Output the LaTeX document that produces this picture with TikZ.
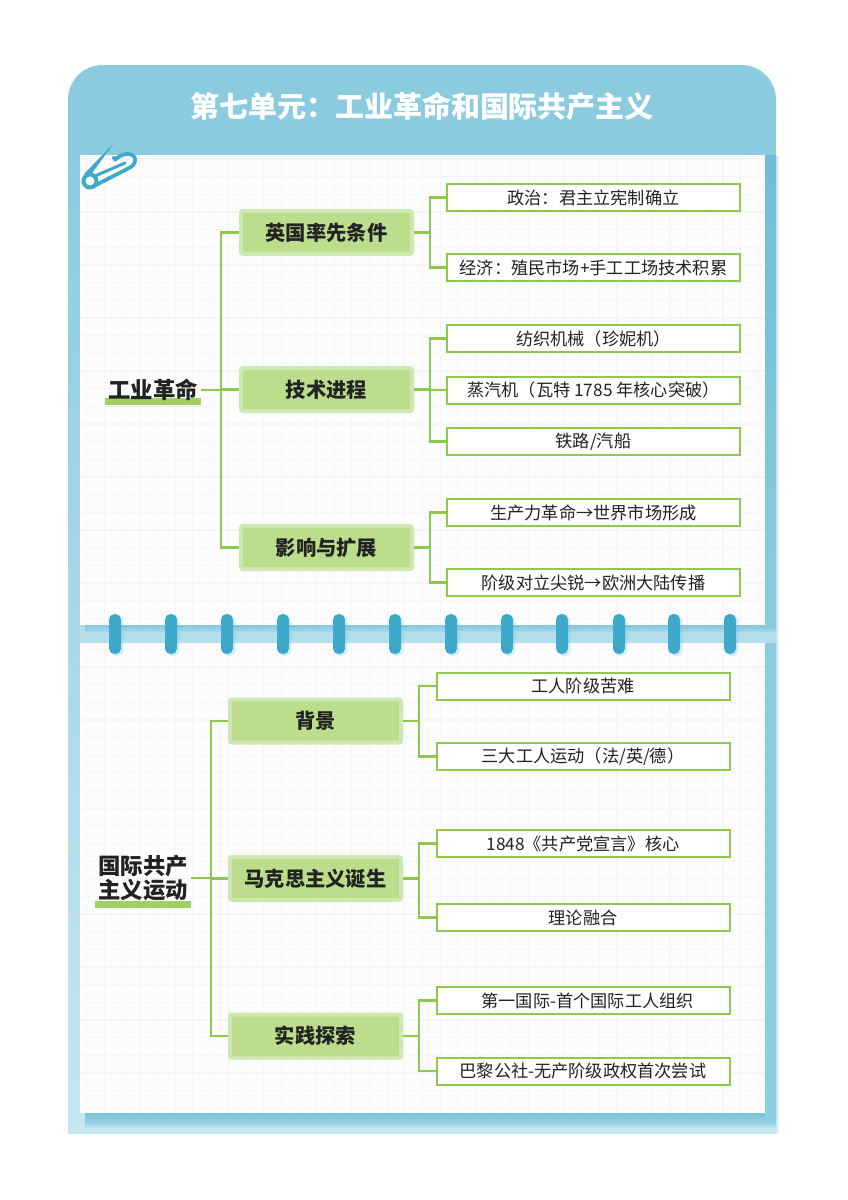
\documentclass[tikz,border=0pt]{standalone}
\usepackage{fontspec}
\setmainfont{Noto Sans CJK SC}
\usetikzlibrary{calc}
\definecolor{band}{HTML}{8BCBE0}
\definecolor{bandlow}{HTML}{C6E6F0}
\definecolor{shadowc}{HTML}{76C2DC}
\definecolor{rightdark}{HTML}{70BCD9}
\definecolor{rightlow}{HTML}{8BCDE2}
\definecolor{pinblue}{HTML}{3FA9CC}
\definecolor{paper}{HTML}{FCFCFC}
\definecolor{gridc}{HTML}{F5F5F5}
\definecolor{conc}{HTML}{8EC84C}
\definecolor{lvfill}{HTML}{BBDD8C}
\definecolor{lvedge}{HTML}{CDE8B0}
\definecolor{barc}{HTML}{A2D063}
\definecolor{ink}{HTML}{222222}
\tikzset{
  x=0.75pt,y=-0.75pt,
  conn/.style={draw=conc,line width=1.6pt,line join=miter},
  leafbox/.style={draw=conc,line width=1.5pt,fill=white,minimum width=219.75pt,minimum height=20.25pt,inner sep=0pt,outer sep=0.75pt,font=\fontsize{12.9pt}{15pt}\selectfont,text=ink},
  lvbox/.style={draw=lvedge,line width=3pt,fill=lvfill,rounded corners=1.5pt,minimum width=128.25pt,minimum height=32.25pt,inner sep=0pt,outer sep=1.5pt,font=\fontsize{15.2pt}{18pt}\selectfont\bfseries,text=ink},
  rootbox/.style={minimum width=72pt,inner sep=0pt,outer sep=0pt,align=center,font=\fontsize{16.8pt}{18pt}\selectfont\bfseries,text=ink},
  rootbar/.style={fill=barc,minimum width=72pt,minimum height=5.25pt,inner sep=0pt,outer sep=0pt},
  titletext/.style={font=\fontsize{21.75pt}{26pt}\selectfont\bfseries,text=white,inner sep=0pt},
  pill/.style={fill=pinblue,rounded corners=4.1pt},
}
\newcommand{\panelshadow}[5]{%
  \foreach \i in {0,1,...,#5}{
    \fill[shadowc,opacity=0.13] (#1+5,#2+5) rectangle (#3,#4+\i);
  }
}
\begin{document}
\begin{tikzpicture}
\useasboundingbox[fill=white] (0,0) rectangle (848,1200);
% soft glow right of the band
\shade[left color=band!45!white,right color=white] (776,156) rectangle (779.5,1133);
% band
\shade[top color=band,bottom color=bandlow] (68,150) rectangle (776,1133);
\fill[band,rounded corners=26pt] (68,156) -- (68,65) -- (776,65) -- (776,156) [sharp corners] -- cycle;
\fill[band] (68,120) rectangle (776,156);
% strip lighter under the pills
\fill[bandlow!70!band] (80,625) rectangle (776,643);
% shadows
\panelshadow{80}{155}{776}{625}{8}
\panelshadow{80}{643}{776}{1113}{15}
% right shadow strips
\shade[top color=rightdark,bottom color=rightlow!95!rightdark] (765,155) rectangle (776,628);
\shade[top color=rightlow!95!rightdark,bottom color=rightlow] (765,643) rectangle (776,1122);
% papers
\fill[paper] (80,155) rectangle (765,625);
\fill[paper] (80,643) rectangle (765,1113);
\begin{scope}
\clip (80,155) rectangle (765,625);
\foreach \k in {0,...,40}{ \draw[gridc,line width=0.9pt] (86.8+\k*17.67,155) -- (86.8+\k*17.67,625); }
\foreach \k in {-1,...,26}{ \draw[gridc,line width=0.9pt] (80,176.6+\k*17.67) -- (765,176.6+\k*17.67); }
\end{scope}
\begin{scope}
\clip (80,643) rectangle (765,1113);
\foreach \k in {0,...,40}{ \draw[gridc,line width=0.9pt] (86.8+\k*17.67,643) -- (86.8+\k*17.67,1113); }
\foreach \k in {0,...,26}{ \draw[gridc,line width=0.9pt] (80,649.3+\k*17.65) -- (765,649.3+\k*17.65); }
\end{scope}
% pills
\foreach \x in {115,171,227,283,339,395,451,507,562,619,674,730}{
  \fill[shadowc,opacity=0.25,rounded corners=4pt] (\x-4,616) rectangle (\x+8.5,656);
  \fill[pill] (\x-6,614) rectangle (\x+6,654);
}
% safety pin
\draw[pinblue,line width=3pt] (90,181) circle[radius=6.5];
\draw[pinblue,line width=2.8pt,line cap=round] (94,186) -- (131,167) .. controls (138,162) and (136,153) .. (126,154) .. controls (121,155) and (118,157) .. (115,160);
\draw[pinblue,line width=2.2pt,line cap=round] (95,176) -- (125,163);
\fill[pinblue] (84,174) -- (114,143) -- (90,176) -- cycle;
\fill[pinblue] (114,158) circle[radius=2];
% title
\node[titletext] (title) at (422,106) {第七单元：工业革命和国际共产主义};
% roots
\node[rootbar] (bar1) at (153,401.5) {};
\node[rootbox] (r1) at (153,390) {工业革命};
\node[rootbar] (bar2) at (143,904.5) {};
\node[rootbox] (r2) at (143,878) {国际共产\\主义运动};
% level two
\node[lvbox] (a1) at (326.5,232.5) {英国率先条件};
\node[lvbox] (a2) at (326.5,389.5) {技术进程};
\node[lvbox] (a3) at (326.5,547.5) {影响与扩展};
\node[lvbox] (b1) at (315.5,721) {背景};
\node[lvbox] (b2) at (315.5,878.5) {马克思主义诞生};
\node[lvbox] (b3) at (315.5,1036) {实践探索};
% leaves
\node[leafbox] (l1) at (593.5,197.5) {政治：君主立宪制确立};
\node[leafbox] (l2) at (593.5,267.5) {经济：殖民市场+手工工场技术积累};
\node[leafbox] (l3) at (593.5,338.5) {纺织机械（珍妮机）};
\node[leafbox] (l4) at (593.5,390) {蒸汽机（瓦特 1785 年核心突破）};
\node[leafbox] (l5) at (593.5,441.5) {铁路/汽船};
\node[leafbox] (l6) at (593.5,512.5) {生产力革命→世界市场形成};
\node[leafbox] (l7) at (593.5,582.5) {阶级对立尖锐→欧洲大陆传播};
\node[leafbox] (m1) at (583,686) {工人阶级苦难};
\node[leafbox] (m2) at (583,756.5) {三大工人运动（法/英/德）};
\node[leafbox] (m3) at (583,843.5) {1848《共产党宣言》核心};
\node[leafbox] (m4) at (583,917.5) {理论融合};
\node[leafbox] (m5) at (583,1000.5) {\hspace*{7pt}第一国际-首个国际工人组织};
\node[leafbox] (m6) at (583,1071) {巴黎公社-无产阶级政权首次尝试};
% connectors
\foreach \t in {a1,a2,a3}{ \draw[conn] (r1.east) -- ++(20,0) |- (\t.west); }
\foreach \t in {b1,b2,b3}{ \draw[conn] (r2.east) -- ++(20,0) |- (\t.west); }
\foreach \t in {l1,l2}{ \draw[conn] (a1.east) -- ++(16,0) |- (\t.west); }
\foreach \t in {l3,l4,l5}{ \draw[conn] (a2.east) -- ++(16,0) |- (\t.west); }
\foreach \t in {l6,l7}{ \draw[conn] (a3.east) -- ++(16,0) |- (\t.west); }
\foreach \t in {m1,m2}{ \draw[conn] (b1.east) -- ++(16,0) |- (\t.west); }
\foreach \t in {m3,m4}{ \draw[conn] (b2.east) -- ++(16,0) |- (\t.west); }
\foreach \t in {m5,m6}{ \draw[conn] (b3.east) -- ++(16,0) |- (\t.west); }
\end{tikzpicture}
\end{document}
